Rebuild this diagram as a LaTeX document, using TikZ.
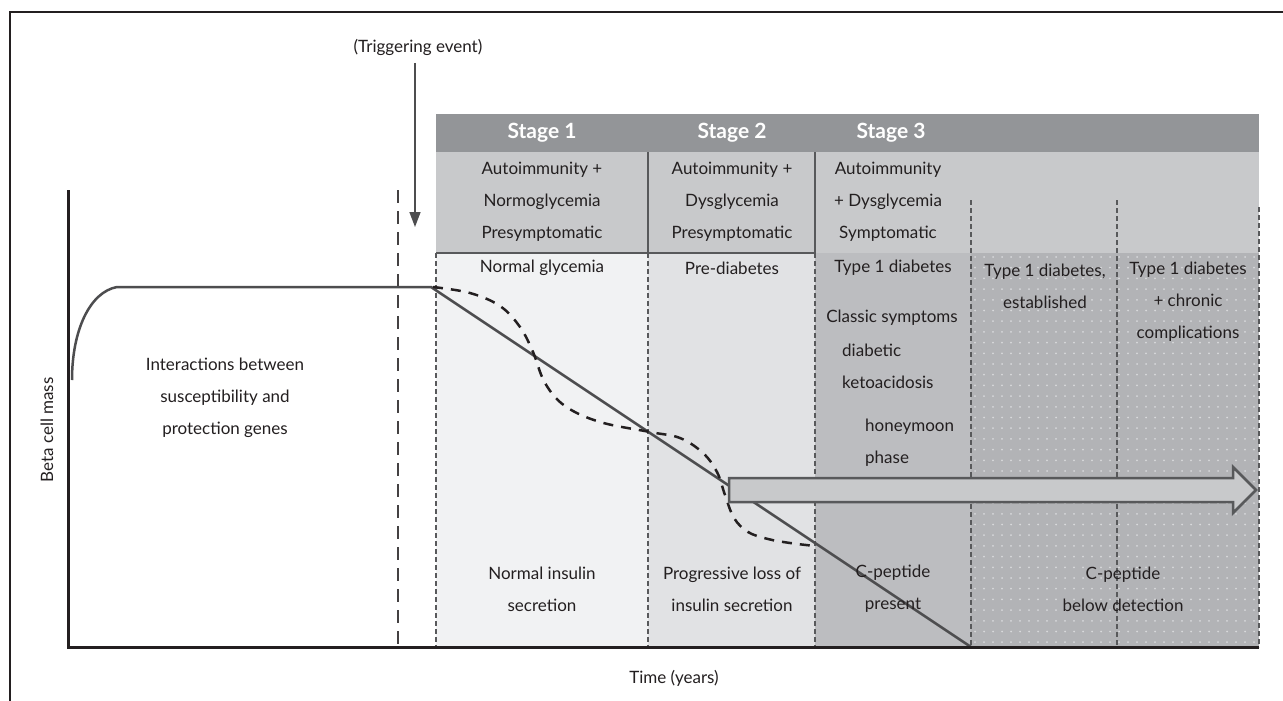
\documentclass[tikz,border=0pt]{standalone}
\usepackage{fontspec}
\setmainfont{Lato}
\usetikzlibrary{arrows.meta}
\definecolor{ink}{HTML}{231F20}
\definecolor{hdark}{HTML}{939598}
\definecolor{hlight}{HTML}{C8C9CB}
\definecolor{cone}{HTML}{F1F2F3}
\definecolor{ctwo}{HTML}{E1E2E4}
\definecolor{cthree}{HTML}{BCBDC0}
\definecolor{cfour}{HTML}{B2B3B6}
\definecolor{dotc}{HTML}{D8D9DB}
\definecolor{linec}{HTML}{4D4D4F}
\definecolor{thinc}{HTML}{58595B}
\begin{document}
\begin{tikzpicture}[x=1pt,y=-1pt,
  lbl/.style={text=ink, inner sep=0pt, align=center, font=\fontsize{17}{32}\selectfont},
  lbll/.style={lbl, anchor=west},
  stagelbl/.style={text=white, inner sep=0pt, font=\fontsize{21}{22}\selectfont\bfseries},
  thindash/.style={thinc, line width=1.1pt, dash pattern=on 5pt off 3pt},
  curve/.style={linec, line width=2.5pt},
  dcurve/.style={ink, line width=2.5pt, dash pattern=on 10pt off 8pt},
  axis/.style={ink, line width=3pt}
]
\useasboundingbox (0,0) rectangle (1283,701);
\fill[white] (0,0) rectangle (1283,701);
% frame
\draw[ink, line width=1.5pt] (10,701) -- (10,12) -- (1283,12);
% header bands
\fill[hdark] (436,114) rectangle (1259,152);
\fill[hlight] (436,152) rectangle (1259,253);
% columns
\fill[cone] (436,253) rectangle (648,647);
\fill[ctwo] (648,253) rectangle (815,647);
\fill[cthree] (815,253) rectangle (971,647);
\fill[cfour] (971,253) rectangle (1259,647);
\foreach \i in {0,...,31} \foreach \j in {0,...,36}
  \fill[dotc] (975+\i*9, 257+\j*10.7) circle (1);
% stage box borders
\draw[thinc, line width=1.5pt] (436,253) -- (815,253);
\draw[thinc, line width=1.5pt] (648,152) -- (648,253);
\draw[thinc, line width=1.5pt] (815,152) -- (815,253);
% thin dashed separators
\draw[thindash] (436,253) -- (436,647);
\draw[thindash] (648,253) -- (648,647);
\draw[thindash] (815,253) -- (815,647);
\draw[thindash] (971,200) -- (971,647);
\draw[thindash] (1117,200) -- (1117,647);
\draw[thindash] (1259,207) -- (1259,647);
% triggering event
\node[lbl] (trig) at (418,47) {(Triggering event)};
\coordinate (trigend) at (415,227);
\draw[linec, line width=1.5pt, -{Triangle[length=15pt,width=11pt]}] (415,63) -- (trigend);
% long dashed line
\draw[ink!85, line width=2.5pt, dash pattern=on 13pt off 8pt] (398,190) -- (398,647);
% beta cell curves
\coordinate (c0) at (72,380);
\coordinate (c1) at (117,287);
\coordinate (c2) at (431,287);
\coordinate (c3) at (971,647);
\draw[curve, line join=round] (c0) .. controls (72,330) and (90,292) .. (c1) -- (c2) -- (c3);
\draw[dcurve] plot[smooth, tension=0.6] coordinates {(433,287) (470,293) (500,306) (520,327) (533,352) (545,383) (565,406) (600,422) (650,432) (680,438) (703,453) (717,472) (725,495) (734,518) (748,532) (768,539) (790,543) (815,546)};
% big arrow
\draw[thinc, fill=hlight, line width=2.5pt, line join=miter]
  (729,478) -- (1233,478) -- (1233,467) -- (1256,490) -- (1233,513) -- (1233,502) -- (729,502) -- cycle;
% axes
\draw[axis] (68,190) -- (68,647) -- (1259,647);
% stage headers
\node[stagelbl] (s1) at (542,133) {Stage 1};
\node[stagelbl] (s2) at (732,133) {Stage 2};
\node[stagelbl] (s3) at (891,133) {Stage 3};
\node[lbl] (d1) at (542,202) {Autoimmunity +\\Normoglycemia\\Presymptomatic};
\node[lbl] (d2) at (732,202) {Autoimmunity +\\Dysglycemia\\Presymptomatic};
\node[lbl] (d3) at (888,202) {Autoimmunity\\+ Dysglycemia\\Symptomatic};
% column texts
\node[lbl] (n1) at (542,268) {Normal glycemia};
\node[lbl] (n2) at (732,268) {Pre-diabetes};
\node[lbl] (n3) at (893,268) {Type 1 diabetes};
\node[lbl] (n4) at (1045,286) {Type 1 diabetes,\\established};
\node[lbl] (n5) at (1188,302) {Type 1 diabetes\\+ chronic\\complications};
\node[lbl] (cs) at (892,318) {Classic symptoms};
\node[lbl, align=left, anchor=west] (dk) at (842,366) {diabetic\\ketoacidosis};
\node[lbl, align=left, anchor=west] (hm) at (865,443) {honeymoon\\phase};
\node[lbl] (b1) at (542,589) {Normal insulin\\secretion};
\node[lbl] (b2) at (732,589) {Progressive loss of\\insulin secretion};
\node[lbl] (b3) at (893,589) {C-peptide\\present};
\node[lbl] (b4) at (1123,589) {C-peptide\\below detection};
% left texts
\node[lbl] (genes) at (225,398) {Interactions between\\susceptibility and\\protection genes};
\node[lbl, rotate=90] (ylab) at (47,430) {Beta cell mass};
\node[lbl] (xlab) at (674,678) {Time (years)};
\end{tikzpicture}
\end{document}
